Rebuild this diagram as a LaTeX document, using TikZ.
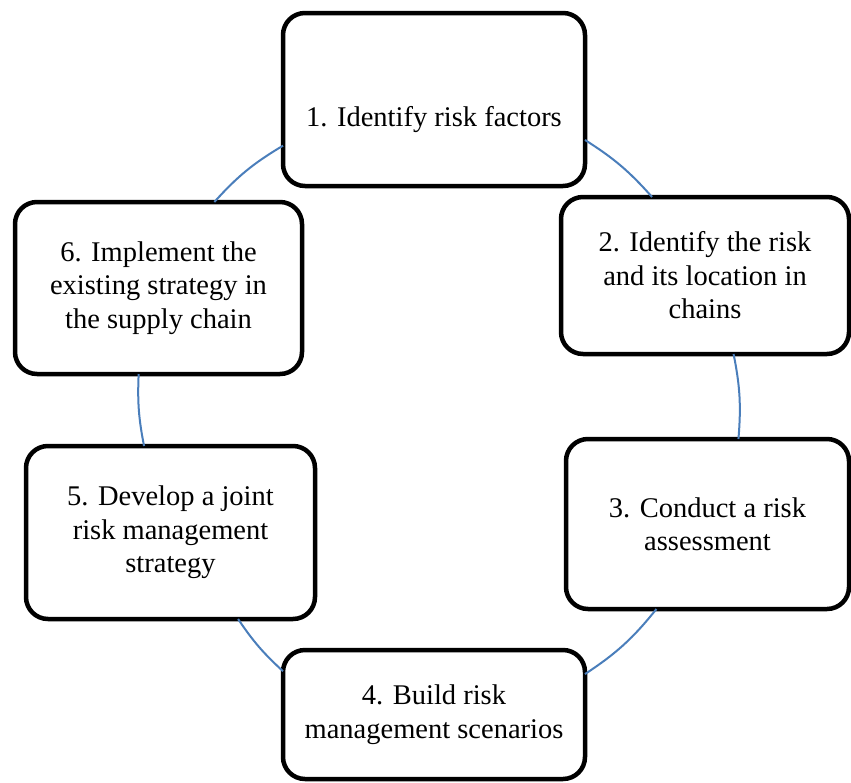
\documentclass[tikz,border=0pt]{standalone}
\usepackage{fontspec}
\setmainfont{Liberation Serif}
\begin{document}
\begin{tikzpicture}[x=1pt,y=-1pt,
  stepbox/.style={draw=black, line width=4.5pt, rounded corners=22pt, fill=white,
    inner sep=0pt, outer sep=0pt, align=center,
    font=\fontsize{28.5}{33.5}\selectfont},
  lbl/.style={inner sep=0pt, align=center, font=\fontsize{28.5}{33.5}\selectfont},
  conn/.style={draw={rgb,255:red,74;green,126;blue,187}, line width=2pt}]
\useasboundingbox (0,0) rectangle (851,782);
\node[stepbox, minimum width=302pt, minimum height=173pt] (n1) at (434,99.5) {};
\node[lbl] (t1) at ([yshift=-20pt]n1.center) {1. Identify risk factors};
\node[stepbox, minimum width=288pt, minimum height=157pt] (n2) at (705,275.5)
  {2. Identify the risk\\and its location in\\chains};
\node[stepbox, minimum width=283pt, minimum height=170pt] (n3) at (707.5,524)
  {3. Conduct a risk\\assessment};
\node[stepbox, minimum width=302pt, minimum height=129pt] (n4) at (434,714.5)
  {4. Build risk\\management scenarios};
\node[stepbox, minimum width=289pt, minimum height=173pt] (n5) at (170.5,532.5)
  {5. Develop a joint\\risk management\\strategy};
\node[stepbox, minimum width=287pt, minimum height=172pt] (n6) at (158.5,288)
  {6. Implement the\\existing strategy in\\the supply chain};
\draw[conn] (n1.-15) to[bend left=8] (n2.124.5);
\draw[conn] (n2.-70.4) to[bend left=8] (n3.70.3);
\draw[conn] (n3.-121.2) to[bend left=9] (n4.15.4);
\draw[conn] (n4.164.6) to[bend left=6.7] (n5.-52.4);
\draw[conn] (n5.107.6) to[bend left=6.8] (n6.-103.4);
\draw[conn] (n6.57.2) to[bend left=8.6] (n1.-163.9);
\end{tikzpicture}
\end{document}
